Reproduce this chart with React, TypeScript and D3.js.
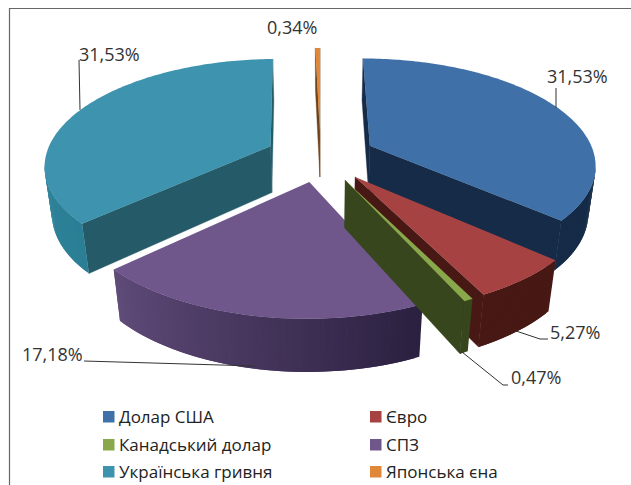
import React from "react";
import * as d3 from "d3";

const categories = ["Долар США", "Євро", "Канадський долар", "СПЗ", "Українська гривня", "Японська єна"];
const shares = [31.53, 5.27, 0.47, 17.18, 31.53, 0.34];
const labels = ["31,53%", "5,27%", "0,47%", "17,18%", "31,53%", "0,34%"];
const topColors = ["#3f71a8", "#a64342", "#88a84b", "#6f578c", "#3e93ae", "#e0873a"];
const sideColors = ["#152b47", "#471814", "#37461d", "#2f2342", "#255a68", "#6e4218"];
const outerStart = ["#152b47", "#471814", "#37461d", "#2b2040", "#2b7f95", "#6e4218"];
const outerEnd = ["#152b47", "#471814", "#37461d", "#604b79", "#3a8ea6", "#6e4218"];
const drawOrder = [5, 4, 0, 1, 3, 2];

const W = 631, H = 485;
const cx = 320.5, cy = 156, R = 225, tilt = 0.465, persp = 1370, explode = 55, depth = 48;

const pieGen = d3.pie<number>().sort(null).value((d) => d);
const arcs = pieGen(shares);

type P = { X: number; Z: number };
const project = (p: P, h = 0): [number, number] => {
  const f = persp / (persp - p.Z + 0.76 * h);
  return [cx + p.X * f, cy + (tilt * p.Z + h) * f];
};
const onPlane = (a: P, t: number, r: number): P => ({ X: a.X + r * Math.sin(t), Z: a.Z - r * Math.cos(t) });
const poly = (pts: [number, number][]) => d3.line()(pts) + "Z";
const facing = (p: P, nx: number, nz: number) => -p.X * nx + (persp - p.Z) * nz > 0;

function Slice({ i }: { i: number }) {
  const a = arcs[i];
  const mid = (a.startAngle + a.endAngle) / 2;
  const apex: P = { X: explode * Math.sin(mid), Z: -explode * Math.cos(mid) };
  const steps = Math.max(2, Math.ceil((a.endAngle - a.startAngle) / (Math.PI / 180)));
  const angles = d3.range(steps + 1).map((k) => a.startAngle + ((a.endAngle - a.startAngle) * k) / steps);
  const rim = angles.map((t) => onPlane(apex, t, R));
  const wallColor = d3.scaleLinear<string>()
    .domain([a.startAngle, a.endAngle])
    .range([outerStart[i], outerEnd[i]]);
  const wall = (t: number) => poly([
    project(apex), project(onPlane(apex, t, R)), project(onPlane(apex, t, R), depth), project(apex, depth),
  ]);
  const startVisible = facing(apex, -Math.cos(a.startAngle), -Math.sin(a.startAngle));
  const endVisible = facing(apex, Math.cos(a.endAngle), Math.sin(a.endAngle));
  const seen = d3.range(steps).filter((k) => {
    const tm = (angles[k] + angles[k + 1]) / 2;
    return facing(onPlane(apex, tm, R), Math.sin(tm), -Math.cos(tm));
  });
  return (
    <g>
      {startVisible && <path d={wall(a.startAngle)} fill={sideColors[i]} stroke={sideColors[i]} strokeWidth={0.4} />}
      {endVisible && <path d={wall(a.endAngle)} fill={sideColors[i]} stroke={sideColors[i]} strokeWidth={0.4} />}
      {seen.map((k) => {
        const c = wallColor((angles[k] + angles[k + 1]) / 2);
        const k2 = Math.min(k + 2, steps);
        return (
          <path key={k} fill={c}
            d={poly([project(rim[k]), project(rim[k2]), project(rim[k2], depth), project(rim[k], depth)])} />
        );
      })}
      <path d={poly([project(apex), ...rim.map((p) => project(p))])} fill={topColors[i]} />
    </g>
  );
}

const labelAnchors: [number, number][] = [[547, 83], [550, 339], [511, 384], [22, 361], [79, 61], [267, 34]];
const leaders: [number, number][][] = [
  [[556, 88], [556, 108]],
  [[516, 331], [540, 339], [548, 339]],
  [[462, 352], [503, 385], [508, 385]],
  [[84, 361], [255, 366]],
  [[79, 60], [80, 110]],
  [],
];
const legendX = [103, 370];
const legendY = [417, 445, 472];

export default function App() {
  return (
    <svg width={W} height={H} viewBox={`0 0 ${W} ${H}`}
      style={{ position: "absolute", left: 0, top: 0, background: "#fff" }}>
      <path d={`M9.5 ${H}V8.5H${W}`} fill="none" stroke="#666" strokeWidth={1.2} />
      {drawOrder.map((i) => <Slice key={i} i={i} />)}
      {leaders.map((l, i) => l.length > 0 && (
        <path key={i} d={d3.line()(l) as string} fill="none" stroke="#333" strokeWidth={1} />
      ))}
      {labels.map((t, i) => (
        <text key={i} x={labelAnchors[i][0]} y={labelAnchors[i][1]} fontFamily="'Open Sans'" fontSize={18} fill="#333">{t}</text>
      ))}
      {categories.map((c, i) => {
        const x = legendX[i % 2], y = legendY[Math.floor(i / 2)];
        return (
          <g key={c}>
            <rect x={x} y={y - 6} width={11.5} height={11.5} fill={topColors[i]} />
            <text x={x + 16} y={y + 6} fontFamily="'Open Sans'" fontSize={17} fill="#222">{c}</text>
          </g>
        );
      })}
    </svg>
  );
}
